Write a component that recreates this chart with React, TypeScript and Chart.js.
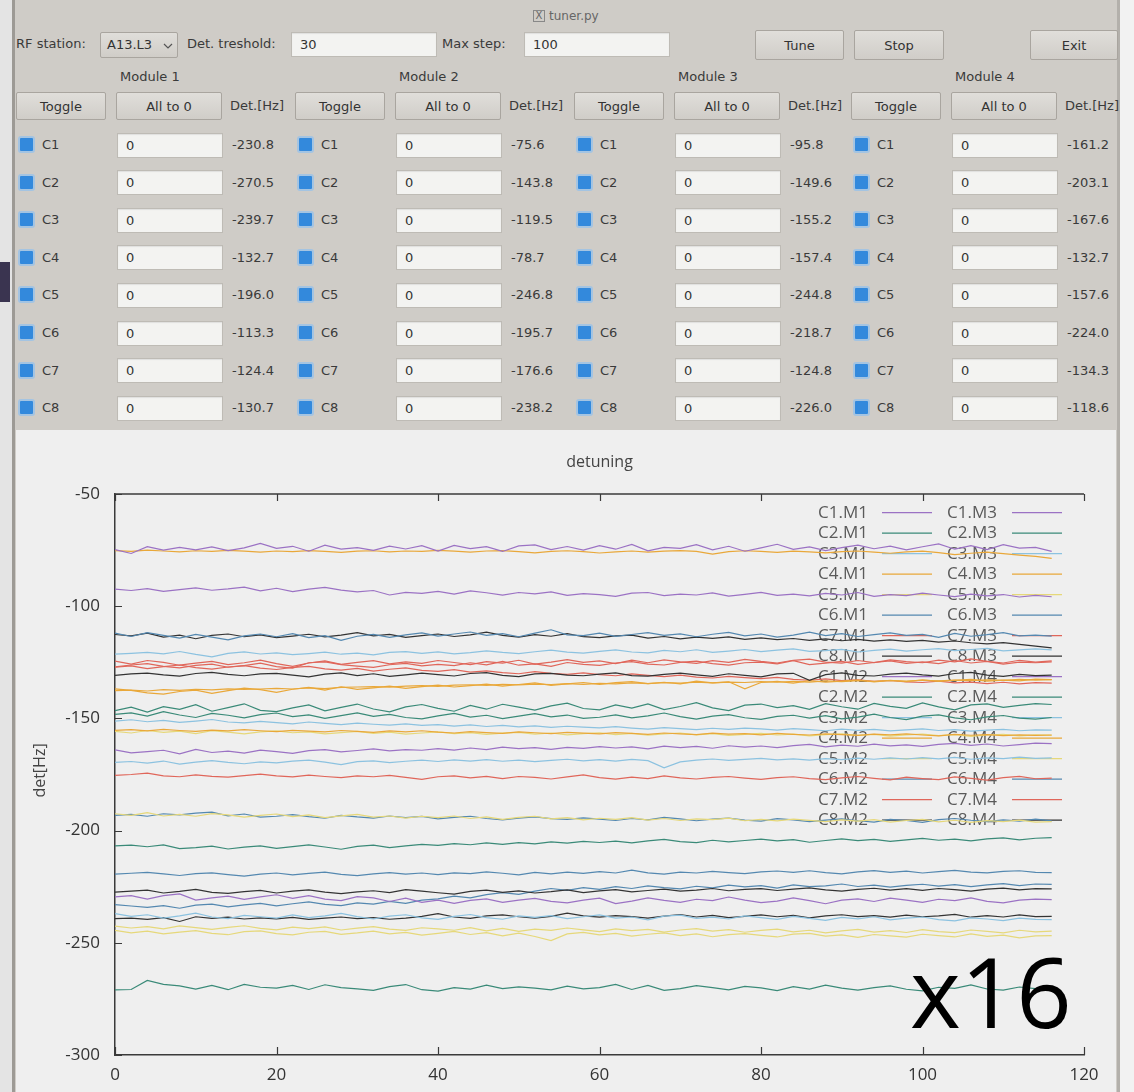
import React, { useEffect, useRef } from 'react';
import { Chart, registerables } from 'chart.js';

Chart.register(...registerables);

// ---- sample index (x axis) ----
const STEPS = [0, 2, 4, 6, 8, 10, 12, 14, 16, 18, 20, 22, 24, 26, 28, 30, 32, 34, 36, 38, 40, 42, 44, 46, 48, 50, 52, 54, 56, 58, 60, 62, 64, 66, 68, 70, 72, 74, 76, 78, 80, 82, 84, 86, 88, 90, 92, 94, 96, 98, 100, 102, 104, 106, 108, 110, 112, 114, 116];

// ---- detuning history per cavity, Hz ----
// Module 1
const C1_M1 = [-229.5, -229.0, -230.5, -229.0, -228.2, -231.0, -230.0, -229.2, -230.6, -229.5,
  -228.6, -230.2, -229.0, -230.5, -231.2, -229.4, -230.0, -231.6, -230.1, -232.0,
  -231.0, -232.4, -231.1, -230.4, -232.0, -231.0, -230.2, -231.5, -232.2, -231.0,
  -230.1, -232.5, -231.4, -230.0, -231.1, -232.0, -230.6, -231.2, -229.6, -231.0,
  -232.1, -231.4, -230.0, -231.2, -232.6, -231.0, -230.4, -231.6, -230.1, -231.0,
  -232.0, -230.6, -231.2, -230.0, -231.5, -232.2, -231.0, -230.5, -230.8];
const C2_M1 = [-271.0, -270.8, -266.8, -268.5, -269.2, -270.6, -269.0, -270.9, -268.5, -269.8,
  -270.2, -269.0, -270.8, -268.7, -270.0, -270.5, -271.2, -269.5, -268.6, -270.9,
  -271.5, -270.0, -270.6, -268.9, -270.4, -269.6, -270.2, -271.0, -269.3, -270.5,
  -270.0, -268.5, -270.8, -269.0, -271.2, -270.4, -269.1, -270.0, -271.0, -269.4,
  -270.1, -271.3, -269.5, -270.6, -268.9, -270.2, -271.1, -270.0, -269.2, -270.7,
  -271.4, -269.8, -270.3, -268.8, -270.6, -271.1, -269.7, -270.4, -270.5];
const C3_M1 = [-237.0, -238.2, -237.5, -239.0, -238.0, -236.8, -238.5, -239.2, -237.8, -238.4,
  -239.0, -237.6, -238.8, -238.0, -236.9, -238.3, -239.4, -238.1, -237.5, -238.9,
  -239.6, -238.2, -237.4, -238.8, -239.5, -238.0, -238.7, -237.9, -239.2, -238.4,
  -237.6, -239.0, -238.5, -239.8, -238.1, -237.7, -239.1, -238.6, -239.4, -238.0,
  -238.8, -239.6, -238.2, -239.1, -240.0, -238.7, -239.3, -238.4, -239.8, -239.0,
  -238.5, -239.7, -240.2, -238.9, -239.4, -240.1, -239.0, -239.6, -239.7];
const C4_M1 = [-137.6, -137.4, -137.8, -137.2, -137.5, -137.0, -137.3, -136.8, -137.1, -136.9,
  -136.6, -136.9, -136.4, -136.7, -136.2, -136.0, -135.8, -136.1, -135.6, -135.4,
  -135.7, -135.2, -135.0, -135.3, -134.8, -135.1, -134.7, -134.9, -134.5, -134.8,
  -134.4, -134.6, -134.2, -134.5, -134.1, -134.3, -133.9, -134.2, -133.8, -134.0,
  -133.6, -133.9, -133.5, -133.8, -133.3, -133.6, -133.2, -133.5, -133.1, -133.4,
  -133.0, -133.3, -132.9, -133.2, -132.8, -133.0, -132.6, -132.9, -132.7];
const C5_M1 = [-192.5, -193.2, -192.0, -193.5, -192.8, -193.6, -192.4, -193.0, -194.0, -193.2,
  -192.6, -193.8, -193.0, -194.2, -193.4, -192.8, -194.0, -193.5, -194.4, -193.6,
  -194.2, -193.5, -194.6, -193.9, -195.0, -194.1, -193.6, -194.8, -194.2, -195.2,
  -194.5, -195.0, -194.2, -195.3, -194.6, -195.5, -194.8, -195.1, -194.4, -195.6,
  -195.0, -195.7, -194.9, -195.4, -196.0, -195.2, -195.8, -195.1, -196.2, -195.5,
  -195.0, -196.1, -195.4, -196.3, -195.6, -196.0, -195.3, -196.2, -196.0];
const C6_M1 = [-112.0, -113.5, -111.8, -113.0, -114.2, -112.6, -113.8, -115.0, -113.2, -112.4,
  -113.6, -112.2, -114.0, -113.1, -115.2, -113.4, -112.6, -113.9, -112.8, -111.9,
  -113.3, -112.4, -111.5, -113.0, -112.2, -113.6, -112.0, -110.5, -112.8, -113.1,
  -112.0, -113.4, -112.6, -111.8, -113.0, -112.3, -113.6, -112.5, -111.7, -113.2,
  -112.4, -113.8, -112.9, -111.6, -113.1, -112.2, -113.5, -112.7, -111.9, -113.0,
  -112.6, -113.9, -112.1, -113.4, -112.7, -111.8, -113.2, -112.9, -113.3];
const C7_M1 = [-124.5, -125.8, -124.2, -125.0, -126.3, -125.4, -124.6, -126.0, -125.2, -124.0,
  -125.6, -126.8, -125.3, -124.4, -125.9, -125.0, -124.3, -125.7, -124.8, -125.5,
  -124.2, -125.1, -126.0, -124.7, -125.4, -124.1, -125.8, -124.9, -123.8, -125.0,
  -124.4, -125.6, -124.0, -125.2, -123.9, -124.8, -125.5, -124.3, -125.0, -123.7,
  -124.6, -125.3, -124.1, -123.6, -124.9, -125.4, -124.2, -125.1, -123.9, -124.7,
  -125.2, -124.0, -124.8, -123.5, -124.6, -125.3, -124.1, -124.9, -124.4];
const C8_M1 = [-130.8, -130.2, -129.8, -130.6, -131.2, -130.0, -129.5, -130.4, -131.0, -130.2,
  -129.9, -130.7, -131.5, -130.3, -129.7, -130.9, -130.1, -131.3, -130.6, -129.8,
  -130.5, -131.1, -130.0, -129.6, -130.8, -131.4, -130.2, -129.9, -130.7, -131.0,
  -130.3, -129.7, -130.9, -131.2, -130.4, -129.8, -130.6, -131.3, -130.1, -130.8,
  -131.5, -130.2, -129.9, -133.0, -130.5, -129.7, -130.8, -131.1, -130.3, -129.8,
  -130.6, -131.2, -130.0, -129.5, -130.7, -131.3, -130.4, -130.9, -130.7];

// Module 2
const C1_M2 = [-74.8, -76.5, -73.5, -75.0, -73.8, -74.9, -73.6, -75.2, -74.0, -72.0,
  -74.2, -73.3, -75.5, -72.8, -74.6, -73.9, -75.1, -73.2, -74.5, -73.0,
  -75.4, -72.9, -74.3, -73.5, -75.6, -73.1, -72.7, -74.8, -73.4, -75.0,
  -73.0, -74.6, -72.5, -75.3, -73.8, -74.2, -72.6, -74.9, -73.3, -75.5,
  -74.0, -72.4, -74.7, -73.6, -75.2, -73.9, -72.8, -74.4, -73.2, -74.9,
  -73.5, -72.2, -74.6, -73.0, -74.8, -72.6, -74.1, -73.8, -75.6];
const C2_M2 = [-146.5, -145.0, -147.2, -144.8, -146.0, -143.9, -146.8, -145.2, -143.5, -146.4,
  -147.0, -145.3, -144.0, -146.6, -145.1, -143.6, -145.8, -147.1, -144.9, -143.8,
  -145.5, -146.8, -144.2, -145.9, -143.7, -145.0, -146.3, -144.4, -143.2, -145.6,
  -146.2, -144.0, -145.4, -143.5, -146.1, -144.7, -143.0, -145.3, -146.5, -144.1,
  -143.6, -145.2, -144.3, -146.0, -143.4, -144.8, -145.9, -143.3, -144.6, -145.5,
  -143.1, -144.9, -146.2, -144.0, -143.5, -145.1, -144.2, -143.4, -143.8];
const C3_M2 = [-121.4, -121.0, -120.6, -121.2, -120.2, -121.5, -122.6, -121.0, -120.4, -121.3,
  -120.8, -121.6, -121.1, -120.5, -121.4, -120.9, -121.7, -120.6, -120.2, -121.0,
  -120.4, -121.2, -120.7, -119.9, -120.6, -121.1, -120.3, -119.6, -120.5, -120.9,
  -120.1, -119.5, -120.4, -120.8, -119.7, -120.3, -119.4, -120.6, -120.0, -119.3,
  -120.2, -119.6, -119.0, -120.1, -119.8, -119.2, -120.4, -119.7, -119.1, -120.0,
  -119.4, -118.9, -119.8, -119.3, -118.8, -119.9, -119.5, -119.0, -119.5];
const C4_M2 = [-75.2, -75.6, -75.0, -75.4, -75.8, -75.3, -75.6, -75.1, -75.5, -75.9,
  -75.4, -75.7, -75.2, -75.6, -76.0, -75.5, -75.3, -75.8, -75.4, -75.6,
  -75.1, -75.5, -75.9, -75.4, -75.2, -75.7, -76.2, -75.6, -75.3, -75.7,
  -76.3, -75.8, -75.4, -75.9, -75.5, -75.2, -75.6, -76.8, -75.7, -75.3,
  -75.6, -76.0, -75.5, -75.8, -76.2, -75.7, -75.4, -75.9, -76.4, -75.8,
  -75.5, -76.1, -77.0, -76.4, -75.9, -76.6, -77.2, -77.8, -78.7];
const C5_M2 = [-244.5, -245.6, -244.8, -246.0, -245.2, -244.6, -245.8, -246.4, -245.0, -244.7,
  -245.9, -246.5, -245.3, -244.9, -246.2, -245.6, -244.8, -246.0, -245.4, -246.6,
  -245.8, -244.9, -246.3, -245.5, -246.9, -245.7, -247.2, -249.0, -246.0, -245.4,
  -246.5, -245.8, -247.0, -246.2, -245.6, -246.8, -246.0, -247.3, -246.4, -245.9,
  -246.7, -247.4, -246.1, -245.8, -247.0, -246.5, -247.6, -246.3, -246.9, -247.5,
  -246.2, -246.8, -247.4, -246.0, -247.1, -246.6, -247.8, -246.9, -246.8];
const C6_M2 = [-193.2, -192.8, -193.6, -192.5, -193.0, -192.2, -191.8, -193.4, -192.6, -194.0,
  -193.6, -192.9, -193.8, -194.5, -193.2, -193.9, -194.4, -193.5, -194.2, -193.7,
  -194.8, -194.1, -193.6, -194.6, -195.2, -194.4, -193.9, -194.7, -195.0, -194.3,
  -194.9, -195.5, -194.6, -195.2, -194.1, -194.8, -195.6, -194.9, -194.4, -195.3,
  -195.8, -194.7, -195.2, -196.0, -195.3, -194.8, -195.6, -196.2, -195.0, -195.5,
  -196.3, -195.1, -194.6, -195.4, -196.0, -195.2, -195.8, -194.9, -195.7];
const C7_M2 = [-175.4, -175.0, -174.4, -175.6, -176.0, -175.2, -175.8, -176.2, -175.5, -174.8,
  -175.6, -176.1, -175.3, -175.9, -176.4, -175.6, -176.0, -175.4, -176.3, -177.2,
  -176.0, -175.6, -176.5, -175.8, -176.8, -175.9, -176.3, -177.0, -176.1, -175.2,
  -176.4, -177.1, -176.2, -176.8, -175.6, -176.5, -177.0, -176.3, -175.9, -176.6,
  -177.2, -176.4, -176.0, -176.8, -177.3, -176.5, -175.9, -176.7, -177.4, -176.2,
  -176.8, -177.3, -176.1, -176.7, -177.5, -176.4, -175.8, -176.9, -176.6];
const C8_M2 = [-239.2, -239.0, -239.6, -238.8, -240.5, -238.4, -239.1, -238.6, -239.4, -238.9,
  -239.3, -238.7, -239.6, -239.0, -238.5, -239.2, -238.8, -239.5, -239.0, -238.2,
  -237.0, -238.5, -239.1, -238.0, -237.6, -238.4, -239.0, -238.2, -236.8, -238.0,
  -238.6, -237.9, -238.3, -239.0, -238.1, -237.4, -238.5, -237.8, -238.8, -238.2,
  -237.6, -238.4, -237.8, -238.9, -238.0, -237.5, -238.3, -237.9, -238.6, -237.7,
  -238.4, -238.0, -237.3, -238.6, -237.9, -238.5, -237.6, -238.3, -238.2];

// Module 3
const C1_M3 = [-92.4, -93.0, -92.2, -93.4, -92.6, -91.8, -92.9, -92.3, -91.5, -93.2,
  -92.0, -93.5, -92.4, -91.6, -92.8, -93.6, -93.0, -95.0, -93.8, -94.3,
  -93.4, -94.6, -93.2, -94.0, -95.1, -93.9, -94.5, -93.6, -95.2, -94.4,
  -94.8, -95.6, -94.2, -93.9, -95.3, -94.6, -95.0, -94.1, -95.5, -94.7,
  -93.8, -95.2, -94.6, -95.4, -94.3, -95.0, -93.9, -95.6, -94.8, -95.3,
  -94.2, -95.0, -95.7, -94.6, -95.4, -94.8, -95.9, -95.2, -95.8];
const C2_M3 = [-148.2, -147.5, -149.0, -147.0, -148.5, -149.6, -147.8, -148.6, -149.8, -148.3,
  -147.6, -149.2, -148.4, -150.0, -148.8, -147.5, -149.1, -148.2, -149.6, -150.2,
  -148.9, -147.8, -149.4, -148.6, -150.1, -149.0, -147.9, -149.3, -148.5, -150.0,
  -149.5, -148.4, -149.8, -148.9, -147.6, -149.2, -150.3, -149.0, -148.3, -149.7,
  -150.4, -149.1, -148.6, -149.9, -148.8, -150.2, -149.4, -148.1, -149.6, -150.5,
  -149.0, -148.4, -149.8, -150.6, -149.3, -148.7, -149.9, -150.3, -149.6];
const C3_M3 = [-151.2, -150.6, -151.5, -150.9, -151.8, -151.2, -150.5, -151.6, -152.0, -151.3,
  -151.9, -152.4, -151.6, -152.2, -152.8, -152.1, -152.6, -153.0, -152.4, -153.1,
  -152.8, -153.4, -152.9, -153.6, -153.1, -153.8, -153.3, -154.0, -153.5, -153.9,
  -154.2, -153.7, -154.3, -154.8, -154.1, -154.6, -155.0, -154.4, -154.9, -154.3,
  -154.7, -155.2, -154.6, -155.0, -155.5, -154.8, -155.3, -154.9, -155.6, -155.1,
  -154.7, -155.4, -155.0, -155.7, -155.2, -154.9, -155.5, -155.1, -155.2];
const C4_M3 = [-155.3, -155.0, -155.6, -154.9, -155.4, -155.8, -155.2, -155.6, -155.0, -155.5,
  -155.9, -155.3, -155.7, -156.0, -155.4, -155.8, -156.2, -155.6, -156.0, -155.5,
  -156.1, -156.5, -155.9, -156.3, -156.7, -156.0, -156.4, -156.8, -156.2, -156.6,
  -156.9, -156.3, -156.7, -157.1, -156.5, -156.9, -157.2, -156.6, -157.0, -156.8,
  -157.3, -156.7, -157.1, -157.4, -156.9, -157.2, -157.6, -157.0, -157.3, -156.9,
  -157.4, -157.8, -157.1, -157.5, -157.2, -157.7, -157.3, -157.6, -157.4];
const C5_M3 = [-242.6, -243.4, -242.8, -243.8, -242.5, -243.2, -244.0, -243.1, -242.4, -243.6,
  -244.2, -243.0, -243.7, -242.9, -244.3, -243.5, -242.8, -243.9, -244.5, -243.3,
  -243.8, -244.4, -243.2, -244.7, -243.6, -244.9, -243.9, -244.5, -243.4, -244.2,
  -245.0, -243.8, -244.6, -244.0, -245.2, -244.3, -243.7, -244.8, -244.1, -245.3,
  -244.5, -243.9, -245.1, -244.4, -245.6, -244.7, -244.0, -245.2, -244.6, -245.4,
  -244.1, -245.0, -245.5, -244.3, -244.9, -245.6, -244.4, -245.1, -244.8];
const C6_M3 = [-219.4, -219.0, -218.6, -219.3, -220.0, -219.2, -218.8, -219.6, -220.3, -219.4,
  -218.9, -219.7, -219.1, -218.5, -219.5, -220.1, -219.3, -218.7, -219.4, -218.9,
  -219.6, -218.8, -219.2, -218.4, -219.0, -219.7, -218.6, -219.3, -218.5, -219.1,
  -218.3, -218.9, -217.6, -218.8, -219.4, -218.5, -218.9, -218.2, -218.7, -219.2,
  -218.4, -218.0, -218.6, -217.9, -218.7, -219.3, -218.4, -217.8, -218.6, -218.1,
  -218.9, -218.3, -217.7, -218.5, -218.8, -218.2, -217.9, -218.6, -218.7];
const C7_M3 = [-127.0, -126.2, -125.6, -126.8, -127.5, -126.4, -125.8, -127.2, -126.5, -125.4,
  -126.9, -127.6, -125.2, -124.8, -126.0, -126.7, -127.3, -126.1, -125.5, -126.6,
  -125.9, -126.5, -125.2, -126.1, -124.6, -126.3, -125.7, -126.8, -125.1, -125.9,
  -126.4, -125.3, -124.7, -125.8, -126.2, -125.0, -124.5, -125.6, -126.3, -125.2,
  -124.9, -125.7, -124.3, -126.0, -125.4, -124.6, -125.9, -125.1, -124.4, -125.5,
  -124.8, -125.6, -124.2, -125.3, -124.6, -125.8, -124.9, -125.2, -124.8];
const C8_M3 = [-227.4, -227.0, -226.5, -227.8, -227.1, -226.2, -227.5, -228.0, -227.2, -226.6,
  -227.8, -227.0, -226.4, -227.4, -228.1, -227.3, -226.8, -227.6, -226.3, -227.0,
  -227.7, -228.3, -227.1, -226.5, -227.5, -226.9, -227.8, -227.2, -226.4, -227.6,
  -226.9, -226.3, -227.3, -226.7, -226.1, -227.0, -226.5, -225.8, -226.8, -226.2,
  -225.9, -226.7, -226.1, -225.5, -226.4, -227.0, -226.2, -225.7, -226.5, -225.9,
  -226.6, -225.8, -226.3, -227.0, -226.1, -225.6, -226.4, -225.9, -226.0];

// Module 4
const C1_M4 = [-164.0, -165.4, -164.8, -164.2, -165.8, -163.8, -165.2, -164.6, -165.5, -164.1,
  -164.8, -165.6, -164.4, -163.9, -164.9, -164.3, -163.6, -164.5, -163.9, -164.2,
  -163.5, -164.1, -163.2, -163.9, -162.8, -163.5, -163.0, -163.8, -162.9, -163.4,
  -162.6, -163.2, -162.7, -163.6, -162.4, -163.0, -162.5, -163.3, -162.2, -162.8,
  -162.3, -163.0, -162.1, -161.6, -162.7, -161.9, -162.4, -161.5, -162.2, -161.8,
  -162.5, -161.6, -161.1, -162.0, -161.4, -162.3, -161.7, -161.0, -161.2];
const C2_M4 = [-206.8, -206.5, -207.2, -206.4, -208.0, -207.6, -206.9, -208.2, -207.4, -206.8,
  -207.9, -207.1, -206.4, -207.3, -208.3, -207.0, -206.5, -207.6, -206.8, -206.1,
  -206.6, -205.8, -206.3, -205.5, -206.1, -205.4, -205.9, -205.0, -205.6, -204.8,
  -205.3, -204.7, -205.5, -204.6, -203.9, -204.9, -205.4, -204.3, -205.0, -204.4,
  -203.8, -204.6, -204.0, -205.2, -204.4, -203.7, -204.5, -203.9, -204.8, -204.1,
  -203.5, -204.3, -203.8, -204.6, -203.7, -203.2, -204.1, -203.4, -203.1];
const C3_M4 = [-169.6, -169.2, -169.9, -169.0, -170.4, -169.5, -168.8, -169.6, -170.2, -169.4,
  -169.8, -169.0, -168.6, -169.5, -170.6, -169.3, -168.9, -169.7, -169.1, -168.6,
  -169.2, -168.5, -169.0, -168.4, -169.1, -168.6, -169.3, -168.7, -168.2, -168.9,
  -168.4, -169.0, -168.3, -168.8, -172.0, -169.4, -168.6, -168.1, -168.7, -168.3,
  -167.8, -168.5, -168.0, -168.6, -167.9, -168.4, -167.7, -168.2, -167.6, -168.1,
  -167.5, -168.0, -167.4, -168.2, -167.6, -167.9, -167.3, -167.8, -167.6];
const C4_M4 = [-136.8, -137.5, -138.6, -139.2, -138.0, -137.4, -138.8, -137.6, -136.5, -137.2,
  -138.4, -137.0, -136.2, -137.4, -135.9, -137.1, -136.4, -135.6, -136.6, -135.8,
  -135.2, -136.0, -135.4, -134.7, -135.6, -134.9, -134.2, -135.3, -134.6, -134.0,
  -134.8, -134.1, -133.6, -134.5, -133.9, -134.6, -133.4, -134.2, -133.7, -136.8,
  -134.0, -133.5, -134.3, -133.2, -133.9, -133.4, -132.9, -133.7, -133.1, -133.6,
  -132.8, -133.5, -133.0, -132.6, -133.4, -132.9, -133.3, -132.5, -132.7];
const C5_M4 = [-155.8, -156.5, -155.4, -156.2, -155.7, -156.8, -155.5, -156.1, -156.9, -156.0,
  -155.6, -156.4, -156.0, -156.9, -156.3, -155.8, -156.7, -156.1, -157.0, -156.5,
  -156.0, -156.8, -156.3, -157.1, -156.6, -156.2, -157.0, -156.5, -157.3, -156.8,
  -156.4, -157.2, -156.7, -157.5, -156.9, -156.5, -157.3, -156.8, -157.6, -157.1,
  -156.7, -157.4, -157.0, -157.8, -157.2, -156.9, -157.6, -157.1, -157.9, -157.3,
  -157.0, -157.7, -157.2, -158.0, -157.4, -157.1, -157.8, -157.3, -157.6];
const C6_M4 = [-233.0, -233.6, -234.2, -233.4, -234.6, -233.2, -232.8, -234.0, -233.1, -232.4,
  -233.5, -232.6, -231.8, -232.9, -233.4, -232.2, -232.8, -231.5, -232.4, -231.0,
  -230.4, -229.2, -230.0, -228.5, -227.6, -228.4, -227.0, -225.8, -226.6, -225.4,
  -226.2, -225.0, -225.8, -224.6, -225.4, -226.0, -224.8, -225.5, -224.3, -225.1,
  -224.5, -225.6, -224.2, -225.0, -224.6, -223.8, -224.9, -224.3, -225.2, -224.4,
  -223.9, -224.7, -224.1, -225.0, -224.2, -223.6, -224.5, -223.8, -224.0];
const C7_M4 = [-127.2, -126.6, -127.8, -126.9, -126.2, -127.4, -128.0, -127.1, -126.5, -127.6,
  -128.2, -127.3, -126.8, -127.9, -128.5, -127.7, -128.9, -128.1, -127.5, -128.6,
  -129.0, -128.3, -129.4, -128.8, -129.6, -130.1, -129.2, -129.9, -130.4, -129.7,
  -130.5, -131.0, -130.2, -130.8, -131.4, -130.7, -131.6, -132.0, -131.3, -131.8,
  -132.3, -131.7, -132.6, -133.0, -132.4, -133.2, -132.8, -133.5, -133.1, -133.7,
  -134.0, -133.4, -134.2, -133.8, -134.5, -133.9, -134.6, -134.1, -134.3];
const C8_M4 = [-112.6, -113.2, -112.0, -113.8, -112.9, -114.5, -113.0, -112.4, -113.6, -112.8,
  -114.0, -113.3, -112.5, -113.7, -112.9, -111.8, -113.2, -112.6, -113.9, -113.1,
  -112.4, -113.5, -112.8, -111.6, -113.0, -113.8, -112.7, -113.4, -112.2, -113.6,
  -114.0, -113.2, -112.9, -114.2, -113.5, -114.6, -113.8, -114.3, -113.7, -114.8,
  -114.1, -114.9, -114.4, -115.2, -114.6, -115.4, -114.8, -115.6, -115.0, -115.7,
  -115.2, -116.0, -115.5, -116.3, -116.8, -116.2, -117.0, -117.8, -118.6];

const CAVITIES = ['C1', 'C2', 'C3', 'C4', 'C5', 'C6', 'C7', 'C8'];
const MODULE_TAGS = ['M1', 'M2', 'M3', 'M4'];
const MODULE_TITLES = ['Module 1', 'Module 2', 'Module 3', 'Module 4'];
const MODULE_DATA = [
  [C1_M1, C2_M1, C3_M1, C4_M1, C5_M1, C6_M1, C7_M1, C8_M1],
  [C1_M2, C2_M2, C3_M2, C4_M2, C5_M2, C6_M2, C7_M2, C8_M2],
  [C1_M3, C2_M3, C3_M3, C4_M3, C5_M3, C6_M3, C7_M3, C8_M3],
  [C1_M4, C2_M4, C3_M4, C4_M4, C5_M4, C6_M4, C7_M4, C8_M4],
];
const X_TICKS = [0, 20, 40, 60, 80, 100, 120];
const Y_TICKS = [-50, -100, -150, -200, -250, -300];

// line colour per cavity (same for every module)
const CAVITY_COLORS = ['#9b72c4', '#3a8a78', '#8cc2e0', '#e9a83a', '#e6d87a', '#5488b0', '#e0665a', '#333333'];

const GUI_FONT = '"DejaVu Sans", sans-serif';
const PLOT_FONT = '"Open Sans", sans-serif';

// ---------- widgets of the control panel ----------
function Text({ x, cy, children, size = 13, color = '#3a3a3a' }: any) {
  return (
    <div style={{ position: 'absolute', left: x, top: cy - 10, height: 20, lineHeight: '20px', fontSize: size, color, whiteSpace: 'nowrap', fontFamily: GUI_FONT }}>
      {children}
    </div>
  );
}

function Button({ x, y, w, h, label }: any) {
  return (
    <div style={{ position: 'absolute', left: x, top: y, width: w, height: h, boxSizing: 'border-box', border: '1px solid #a9a59f', borderRadius: 2, background: 'linear-gradient(#e0deda, #d0cdc8)', display: 'flex', alignItems: 'center', justifyContent: 'center', fontFamily: GUI_FONT, fontSize: 13, color: '#333' }}>
      {label}
    </div>
  );
}

function Field({ x, y, w, h, value }: any) {
  return (
    <div style={{ position: 'absolute', left: x, top: y, width: w, height: h, boxSizing: 'border-box', border: '1px solid #bebbb5', background: '#f3f3f1', boxShadow: 'inset 0 1px 1px rgba(0,0,0,0.08)', paddingLeft: 8, lineHeight: `${h - 2}px`, fontFamily: GUI_FONT, fontSize: 13, color: '#333' }}>
      {value}
    </div>
  );
}

function Check({ x, cy }: any) {
  return (
    <div style={{ position: 'absolute', left: x, top: cy - 9, width: 17, height: 17, boxSizing: 'border-box', border: '2px solid #a4c4e2', borderRadius: 3, background: '#3389dc' }} />
  );
}

// ---------- plot decorations drawn on the canvas ----------
const plotFrame = {
  id: 'plotFrame',
  beforeDatasetsDraw(chart: any) {
    const { ctx } = chart;
    const sets = chart.data.datasets;
    ctx.save();
    ctx.font = `17px ${PLOT_FONT}`;
    ctx.textBaseline = 'middle';
    ctx.textAlign = 'left';
    sets.forEach((ds: any, i: number) => {
      const col = Math.floor(i / 16);
      const row = i % 16;
      const y = 82.7 + row * 20.5;
      const tx = col === 0 ? 802 : 931;
      const lx = col === 0 ? 866 : 996;
      ctx.fillStyle = '#5a5a5a';
      ctx.fillText(ds.label, tx, y);
      ctx.strokeStyle = ds.borderColor;
      ctx.lineWidth = 1.3;
      ctx.beginPath();
      ctx.moveTo(lx, y);
      ctx.lineTo(lx + 50, y);
      ctx.stroke();
    });
    ctx.restore();
  },
  afterDraw(chart: any) {
    const { ctx, chartArea: a, scales } = chart;
    ctx.save();
    ctx.strokeStyle = '#3a3a3a';
    ctx.lineWidth = 1.5;
    // top frame line
    ctx.beginPath();
    ctx.moveTo(a.left, a.top);
    ctx.lineTo(a.right, a.top);
    ctx.stroke();
    // inward tick marks
    ctx.lineWidth = 1.2;
    ctx.beginPath();
    X_TICKS.forEach((v) => {
      const px = Math.round(scales.x.getPixelForValue(v)) + 0.5;
      ctx.moveTo(px, a.bottom);
      ctx.lineTo(px, a.bottom - 8);
      ctx.moveTo(px, a.top);
      ctx.lineTo(px, a.top + 7);
    });
    Y_TICKS.forEach((v) => {
      const py = Math.round(scales.y.getPixelForValue(v)) + 0.5;
      ctx.moveTo(a.left, py);
      ctx.lineTo(a.left + 7, py);
    });
    ctx.stroke();
    // title
    ctx.fillStyle = '#444';
    ctx.font = `16px ${PLOT_FONT}`;
    ctx.textAlign = 'center';
    ctx.textBaseline = 'middle';
    ctx.fillText('detuning', (a.left + a.right) / 2, 32);
    // y axis title
    ctx.save();
    ctx.translate(24, (a.top + a.bottom) / 2 - 4);
    ctx.rotate(-Math.PI / 2);
    ctx.fillText('det[Hz]', 0, 0);
    ctx.restore();
    // count overlay
    ctx.fillStyle = '#000';
    ctx.font = `97px ${PLOT_FONT}`;
    ctx.textAlign = 'left';
    ctx.textBaseline = 'alphabetic';
    ctx.fillText('x16', 894, 598);
    ctx.restore();
  },
};

function DetuningChart() {
  const ref = useRef<HTMLCanvasElement>(null);
  useEffect(() => {
    const datasets: any[] = [];
    MODULE_DATA.forEach((mod, m) => {
      mod.forEach((values, c) => {
        datasets.push({
          label: `${CAVITIES[c]}.${MODULE_TAGS[m]}`,
          data: values.map((y, i) => ({ x: STEPS[i], y })),
          borderColor: CAVITY_COLORS[c],
          borderWidth: 1.2,
          pointRadius: 0,
          fill: false,
          tension: 0,
        });
      });
    });
    const tickFont = { family: PLOT_FONT, size: 17 };
    const chart = new Chart(ref.current as HTMLCanvasElement, {
      type: 'line',
      data: { datasets },
      options: {
        animation: false,
        responsive: false,
        devicePixelRatio: 1,
        events: [],
        layout: { padding: { left: 0, top: 64, right: 32, bottom: 0 } },
        plugins: { legend: { display: false }, title: { display: false }, tooltip: { enabled: false } },
        scales: {
          x: {
            type: 'linear',
            min: 0,
            max: 120,
            afterFit: (s: any) => { s.height = 37; },
            grid: { display: false, drawTicks: false },
            border: { display: true, color: '#3a3a3a', width: 1.5 },
            ticks: { stepSize: 20, padding: 10, color: '#333', font: tickFont, autoSkip: false, maxRotation: 0 },
          },
          y: {
            type: 'linear',
            min: -300,
            max: -50,
            afterFit: (s: any) => { s.width = 99; },
            grid: { display: false, drawTicks: false },
            border: { display: true, color: '#3a3a3a', width: 1.5 },
            ticks: { stepSize: 50, padding: 15, color: '#333', font: tickFont },
          },
        },
      } as any,
      plugins: [plotFrame],
    });
    return () => chart.destroy();
  }, []);
  return (
    <canvas ref={ref} width={1100} height={662} style={{ position: 'absolute', left: 16, top: 430, width: 1100, height: 662 }} />
  );
}

const MODULE_X = [16, 295, 574, 851];
const ROW_Y0 = 145;
const ROW_STEP = 37.6;

export default function App() {
  return (
    <div style={{ position: 'absolute', left: 0, top: 0, width: 1134, height: 1092, overflow: 'hidden', background: '#cfccc7', fontFamily: GUI_FONT }}>
      {/* surrounding desktop and window frame */}
      <div style={{ position: 'absolute', left: 0, top: 0, width: 12, height: 1092, background: '#e4e4e4' }} />
      <div style={{ position: 'absolute', left: 0, top: 262, width: 10, height: 40, background: '#3a3450' }} />
      <div style={{ position: 'absolute', left: 12, top: 0, width: 3, height: 1092, background: '#9d9a95' }} />
      <div style={{ position: 'absolute', left: 1119, top: 0, width: 15, height: 1092, background: '#f2f2f2' }} />
      <div style={{ position: 'absolute', left: 1117, top: 0, width: 3, height: 1092, background: '#b3b0ab' }} />

      {/* title bar */}
      <div style={{ position: 'absolute', left: 533, top: 10, width: 12, height: 12, border: '1px solid #888', boxSizing: 'border-box', fontSize: 10, lineHeight: '10px', textAlign: 'center', color: '#666' }}>X</div>
      <Text x={549} cy={16} size={12} color="#666">tuner.py</Text>

      {/* top controls */}
      <Text x={16} cy={44}>RF station:</Text>
      <div style={{ position: 'absolute', left: 100, top: 32, width: 78, height: 26, boxSizing: 'border-box', border: '1px solid #a9a59f', borderRadius: 2, background: 'linear-gradient(#e0deda, #d0cdc8)', fontSize: 13, color: '#333', lineHeight: '24px', paddingLeft: 6 }}>
        A13.L3
        <svg width="10" height="8" style={{ position: 'absolute', left: 62, top: 9 }}>
          <polyline points="1,2 5,6 9,2" fill="none" stroke="#555" strokeWidth="1.2" />
        </svg>
      </div>
      <Text x={187} cy={44}>Det. treshold:</Text>
      <Field x={291} y={32} w={146} h={25} value="30" />
      <Text x={442} cy={44}>Max step:</Text>
      <Field x={524} y={32} w={146} h={25} value="100" />
      <Button x={755} y={30} w={89} h={30} label="Tune" />
      <Button x={854} y={30} w={90} h={30} label="Stop" />
      <Button x={1030} y={30} w={88} h={30} label="Exit" />

      {/* per-module columns */}
      {MODULE_X.map((bx, m) => (
        <React.Fragment key={m}>
          <Text x={bx + 104} cy={77}>{MODULE_TITLES[m]}</Text>
          <Button x={bx} y={92} w={90} h={28} label="Toggle" />
          <Button x={bx + 100} y={92} w={106} h={28} label="All to 0" />
          <Text x={bx + 214} cy={106}>Det.[Hz]</Text>
          {CAVITIES.map((cav, r) => {
            const cy = ROW_Y0 + r * ROW_STEP;
            const values = MODULE_DATA[m][r];
            return (
              <React.Fragment key={cav}>
                <Check x={bx + 2} cy={cy} />
                <Text x={bx + 26} cy={cy}>{cav}</Text>
                <Field x={bx + 101} y={cy - 12.5} w={106} h={25} value="0" />
                <Text x={bx + 216} cy={cy}>{values[values.length - 1].toFixed(1)}</Text>
              </React.Fragment>
            );
          })}
        </React.Fragment>
      ))}

      {/* plot panel */}
      <div style={{ position: 'absolute', left: 16, top: 430, width: 1100, height: 662, background: '#efefef' }} />
      <DetuningChart />
    </div>
  );
}
